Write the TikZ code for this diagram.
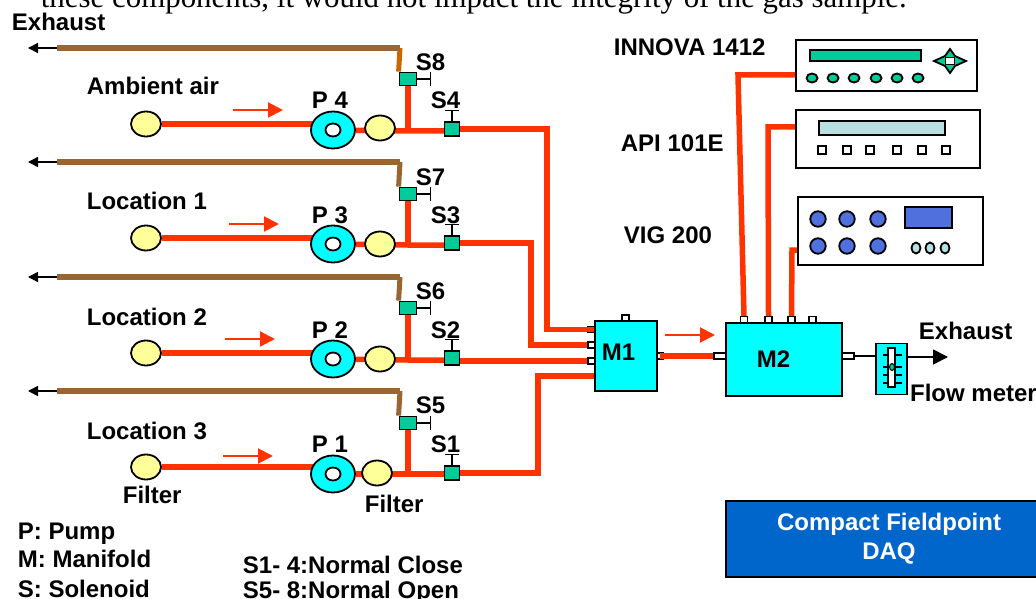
\documentclass[tikz,border=0pt]{standalone}
\usepackage{fontspec}
\setmainfont{Liberation Sans}
\newfontfamily\pagefont{Liberation Serif}
\usepackage{tikz}
\usetikzlibrary{shapes, arrows.meta, backgrounds}

\definecolor{pipered}{HTML}{FF3300}
\definecolor{ventbrown}{HTML}{996633}
\definecolor{ventorange}{HTML}{CC6600}
\definecolor{valvegreen}{HTML}{00CC99}
\definecolor{filteryellow}{HTML}{FFFF99}
\definecolor{pumpcyan}{HTML}{00FFFF}
\definecolor{knobblue}{HTML}{5070DE}
\definecolor{panelblue}{HTML}{B8E0E2}
\definecolor{daqblue}{HTML}{0066CC}

\begin{document}
\begin{tikzpicture}[x=1pt, y=-1pt, line width=1.8pt,
    filter/.style = {draw, ellipse, fill=filteryellow, inner sep=0pt, minimum width=30pt, minimum height=25pt},
    pump/.style = {draw, ellipse, fill=pumpcyan, inner sep=0pt, minimum width=44pt, minimum height=37pt},
    hole/.style = {draw, ellipse, fill=white, inner sep=0pt, minimum width=15pt, minimum height=13pt},
    valve/.style = {draw, rectangle, fill=valvegreen, inner sep=0pt, minimum width=15pt, minimum height=14pt},
    vent valve/.style = {draw, rectangle, fill=valvegreen, inner sep=0pt, minimum width=17pt, minimum height=13pt},
    manifold/.style = {draw, rectangle, fill=pumpcyan, inner sep=0pt},
    stub/.style = {draw, rectangle, fill=white, inner sep=0pt, line width=1.4pt, minimum width=7pt, minimum height=6pt},
    unit/.style = {draw, rectangle, fill=white, inner sep=0pt, line width=2pt},
    dot/.style = {draw, ellipse, fill=valvegreen, inner sep=0pt, minimum width=11pt, minimum height=9pt},
    key/.style = {draw, rectangle, fill=white, inner sep=0pt, minimum width=8pt, minimum height=8pt},
    knob/.style = {draw, circle, fill=knobblue, inner sep=0pt, minimum size=15.5pt},
    lamp/.style = {draw, ellipse, fill=panelblue, inner sep=0pt, minimum width=9pt, minimum height=11pt},
    pipe/.style = {draw=pipered, line width=5.5pt},
    vent/.style = {draw=ventbrown, line width=5.5pt},
    outlet/.style = {line width=1.5pt, -{Triangle[length=10pt,width=10pt]}},
    flow/.style = {draw=pipered, line width=2pt, -{Triangle[length=15pt,width=15pt,color=pipered]}},
    handle/.style = {line width=1.2pt, -{Bar[width=14pt,line width=1.2pt]}},
    lbl/.style = {anchor=base west, inner sep=0pt, font=\fontsize{24}{26}\selectfont\bfseries}]
    \useasboundingbox (0,0) rectangle (1036,599);

    % line of page text cut by the figure
    \node[anchor=base west, inner sep=0pt, font=\fontsize{30.9}{32}\selectfont\pagefont] (pagetext) at (40,8) {these components, it would not impact the integrity of the gas sample.};

    % sampling rows
    \node[filter] (f4) at (146,124) {};
    \node[pump] (p4) [right of=f4, node distance=187pt, yshift=-6pt] {};
    \node[hole] (h4) at (p4) {};
    \node[filter] (g4) [right of=p4, node distance=47pt, yshift=2pt] {};
    \node[valve] (s4) [right of=g4, node distance=72pt, yshift=-1pt] {};
    \node[vent valve] (s8) at (408,79) {};
    \coordinate[below of=s8, node distance=52pt] (j4);

    \node[filter] (f3) [below of=f4, node distance=114pt] {};
    \node[pump] (p3) [right of=f3, node distance=187pt, yshift=-6pt] {};
    \node[hole] (h3) at (p3) {};
    \node[filter] (g3) [right of=p3, node distance=47pt] {};
    \node[valve] (s3) [right of=g3, node distance=72pt, yshift=1pt] {};
    \node[vent valve] (s7) [below of=s8, node distance=115pt] {};
    \coordinate[below of=s7, node distance=51pt] (j3);

    \node[filter] (f2) [below of=f3, node distance=115pt] {};
    \node[pump] (p2) [right of=f2, node distance=187pt, yshift=-6pt] {};
    \node[hole] (h2) at (p2) {};
    \node[filter] (g2) [right of=p2, node distance=47pt] {};
    \node[valve] (s2) [right of=g2, node distance=72pt, yshift=1pt] {};
    \node[vent valve] (s6) [below of=s7, node distance=114pt] {};
    \coordinate[below of=s6, node distance=52pt] (j2);

    \node[filter] (f1) [below of=f2, node distance=114pt] {};
    \node[pump] (p1) [right of=f1, node distance=187pt, yshift=-7pt] {};
    \node[hole] (h1) at (p1) {};
    \node[filter] (g1) [right of=p1, node distance=44pt, yshift=1pt] {};
    \node[valve] (s1) [right of=g1, node distance=75pt] {};
    \node[vent valve] (s5) [below of=s6, node distance=115pt] {};
    \coordinate[below of=s5, node distance=51pt] (j1);

    % manifolds and flow meter
    \node[manifold, minimum width=62pt, minimum height=70pt] (m1) at (626,356) {};
    \node[manifold, minimum width=116pt, minimum height=73pt] (m2) at (784,359.5) {};
    \node[manifold, minimum width=31pt, minimum height=51pt] (fm) at (891.5,369) {};
    \draw[line width=1.2pt] (883,355) -- (902,355);
    \draw[line width=1.2pt] (883,367) -- (902,367);
    \draw[line width=1.2pt] (883,375) -- (902,375);
    \draw[line width=1.2pt] (883,383) -- (902,383);
    \node[draw, rectangle, fill=white, inner sep=0pt, line width=1.2pt, minimum width=7pt, minimum height=39pt] (slider) at (891.5,367.5) {};
    \node[draw, ellipse, fill=valvegreen, inner sep=0pt, line width=1pt, minimum width=5pt, minimum height=7pt] (bead) at (892,367) {};

    % analysers
    \node[unit, minimum width=181pt, minimum height=51pt] (innova) at (886.5,65.5) {};
    \node[draw, rectangle, fill=valvegreen, inner sep=0pt, minimum width=111pt, minimum height=11pt] (readout) at (865.5,55.5) {};
    \node[dot] (d1) at (812,78) {};
    \node[dot] (d2) [right of=d1, node distance=21pt] {};
    \node[dot] (d3) [right of=d2, node distance=21pt] {};
    \node[dot] (d4) [right of=d3, node distance=22pt] {};
    \node[dot] (d5) [right of=d4, node distance=21pt] {};
    \node[dot] (d6) [right of=d5, node distance=21pt] {};
    \draw[fill=valvegreen] (934,61) -- (945,56) -- (950,49) -- (955,56) -- (966,61) -- (955,66) -- (950,73) -- (945,66) -- cycle;
    \node[draw, rectangle, fill=white, inner sep=0pt, line width=1pt, minimum width=9pt, minimum height=7pt] (pad) at (950,61) {};

    \node[unit, minimum width=184pt, minimum height=58pt] (api) at (888,139) {};
    \node[draw, rectangle, fill=panelblue, inner sep=0pt, minimum width=126pt, minimum height=14pt] (screen) at (882,128) {};
    \node[key] (k1) at (822,150) {};
    \node[key] (k2) [right of=k1, node distance=25pt] {};
    \node[key] (k3) [right of=k2, node distance=23pt] {};
    \node[key] (k4) [right of=k3, node distance=27pt] {};
    \node[key] (k5) [right of=k4, node distance=25pt] {};
    \node[key] (k6) [right of=k5, node distance=24pt] {};

    \node[unit, minimum width=185pt, minimum height=68pt] (vig) at (890.5,231) {};
    \node[knob] (b1) at (818,219) {};
    \node[knob] (b2) [right of=b1, node distance=29pt] {};
    \node[knob] (b3) [right of=b2, node distance=31pt] {};
    \node[knob] (b4) [below of=b1, node distance=27pt] {};
    \node[knob] (b5) [below of=b2, node distance=27pt] {};
    \node[knob] (b6) [below of=b3, node distance=27pt] {};
    \node[draw, rectangle, fill=knobblue, inner sep=0pt, minimum width=47pt, minimum height=21pt] (display) at (928.5,217.5) {};
    \node[lamp] (l1) at (916,248) {};
    \node[lamp] (l2) [right of=l1, node distance=14pt] {};
    \node[lamp] (l3) [right of=l2, node distance=15pt] {};

    % bends and free ends
    \coordinate (b48) at (400,48);
    \coordinate (e48) at (57,48);
    \coordinate (x48) at (28,48);
    \coordinate (b37) at (400,162);
    \coordinate (e37) at (57,162);
    \coordinate (x37) at (28,162);
    \coordinate (b26) at (400,277);
    \coordinate (e26) at (57,277);
    \coordinate (x26) at (28,277);
    \coordinate (b15) at (400,391);
    \coordinate (e15) at (57,391);
    \coordinate (x15) at (28,391);
    \coordinate (c4) at (547,129);
    \coordinate (c3) at (531,243);
    \coordinate (c1) at (538,473);
    \coordinate (ci) at (738,75);
    \coordinate (ca) at (768,127);
    \coordinate (cv) at (792,250);
    \coordinate (xr) at (948,357);

    \begin{scope}[on background layer]
        \node[stub] (t1) at (625.5,318) {};
        \node[stub, minimum height=5pt] (i1) at (591.5,329.5) {};
        \node[stub] (i2) at (591.5,345) {};
        \node[stub] (i3) at (591.5,361) {};
        \node[stub, minimum height=5pt] (i4) at (591.5,376) {};
        \node[stub] (o1) at (660,356) {};
        \node[stub, minimum width=12pt] (i5) at (720,356) {};
        \node[stub, minimum width=12pt] (o2) at (848,356) {};
        \node[stub] (u1) at (744,319.5) {};
        \node[stub] (u2) at (768.5,319.5) {};
        \node[stub] (u3) at (791.5,319.5) {};
        \node[stub] (u4) at (812.5,319.5) {};
        \draw[pipe] (f4) -- (f4 -| p4);
        \draw[pipe] (p4) -- (j4) -- (j4 -| s4);
        \draw[pipe] (s8) -- (j4);
        \draw[pipe] (f3) -- (f3 -| p3);
        \draw[pipe] (p3) -- (j3) -- (j3 -| s3);
        \draw[pipe] (s7) -- (j3);
        \draw[pipe] (f2) -- (f2 -| p2);
        \draw[pipe] (p2) -- (j2) -- (j2 -| s2);
        \draw[pipe] (s6) -- (j2);
        \draw[pipe] (f1) -- (f1 -| p1);
        \draw[pipe] (p1) -- (j1) -- (j1 -| s1);
        \draw[pipe] (s5) -- (j1);
        \draw[pipe] (s4) -- (c4) -- (c4 |- i1) -- (i1.center -| m1.west);
        \draw[pipe] (s3) -- (c3) -- (c3 |- i2) -- (i2.west);
        \draw[pipe] (s2 |- i3) -- (i3.west);
        \draw[pipe] (s1) -- (c1) -- (c1 |- i4) -- (i4.center -| m1.west);
        \draw[pipe] (o1.center) -- (i5.west);
        \draw[pipe] (innova.west |- ci) -- (ci) -- (u1.north);
        \draw[pipe] (api.west |- ca) -- (ca) -- (u2.north);
        \draw[pipe] (vig.west |- cv) -- (cv) -- (u3.north);
    \end{scope}

    % exhaust lines
    \draw[draw=ventorange, line width=5pt] (s8.north west) -- (b48);
    \draw[vent] (b48) -- (e48);
    \draw[outlet] (e48) -- (x48);
    \draw[draw=ventbrown, line width=5pt] (s7.north west) -- (b37);
    \draw[vent] (b37) -- (e37);
    \draw[outlet] (e37) -- (x37);
    \draw[draw=ventbrown, line width=5pt] (s6.north west) -- (b26);
    \draw[vent] (b26) -- (e26);
    \draw[outlet] (e26) -- (x26);
    \draw[draw=ventbrown, line width=5pt] (s5.north west) -- (b15);
    \draw[vent] (b15) -- (e15);
    \draw[outlet] (e15) -- (x15);
    \draw[line width=1.8pt] (o2.east) -- (o2.east -| fm.west);
    \draw[line width=1.8pt, -{Triangle[length=15pt,width=15pt]}] (fm.east |- xr) -- (xr);

    % solenoid handles
    \draw[handle] (s8.east) -- ++(14,0);
    \draw[handle] (s7.east) -- ++(14,0);
    \draw[handle] (s6.east) -- ++(14,0);
    \draw[handle] (s5.east) -- ++(14,0);
    \draw[handle] (s4.north) -- ++(0,-11);
    \draw[handle] (s3.north) -- ++(0,-11);
    \draw[handle] (s2.north) -- ++(0,-11);
    \draw[handle] (s1.north) -- ++(0,-11);

    % flow direction
    \coordinate (a4) at (233,110);
    \coordinate[right of=a4, node distance=50pt] (z4);
    \coordinate (a3) at (229,224);
    \coordinate[right of=a3, node distance=50pt] (z3);
    \coordinate (a2) at (225,339);
    \coordinate[right of=a2, node distance=50pt] (z2);
    \coordinate (a1) at (223,456);
    \coordinate[right of=a1, node distance=50pt] (z1);
    \coordinate (am) at (665,335);
    \coordinate[right of=am, node distance=50pt] (zm);
    \draw[flow] (a4) -- (z4);
    \draw[flow] (a3) -- (z3);
    \draw[flow] (a2) -- (z2);
    \draw[flow] (a1) -- (z1);
    \draw[flow] (am) -- (zm);

    % labels
    \node[lbl] (exhaustl) at (11,31) {Exhaust};
    \node[lbl] (air) at (86,95) {Ambient air};
    \node[lbl] (loc1) at (86,209) {Location 1};
    \node[lbl] (loc2) at (86,325) {Location 2};
    \node[lbl] (loc3) at (86,439) {Location 3};
    \node[lbl] (lp4) at (311,109) {P 4};
    \node[lbl] (lp3) at (311,223) {P 3};
    \node[lbl] (lp2) at (311,338) {P 2};
    \node[lbl] (lp1) at (311,452) {P 1};
    \node[lbl] (ls8) at (415,71) {S8};
    \node[lbl] (ls7) at (415,185) {S7};
    \node[lbl] (ls6) at (415,299) {S6};
    \node[lbl] (ls5) at (415,413) {S5};
    \node[lbl] (ls4) at (430,109) {S4};
    \node[lbl] (ls3) at (430,223) {S3};
    \node[lbl] (ls2) at (430,338) {S2};
    \node[lbl] (ls1) at (430,452) {S1};
    \node[lbl] (lf1) at (122,503) {Filter};
    \node[lbl] (lf2) at (364,512) {Filter};
    \node[lbl] (lpump) at (17,539) {P: Pump};
    \node[lbl] (lman) at (17,567) {M: Manifold};
    \node[lbl] (lsol) at (17,597) {S: Solenoid};
    \node[lbl] (lclose) at (242,573) {S1- 4:Normal Close};
    \node[lbl] (lopen) at (242,598) {S5- 8:Normal Open};
    \node[lbl] (linnova) at (613,56) {INNOVA 1412};
    \node[lbl] (lapi) at (620,151) {API 101E};
    \node[lbl] (lvig) at (623,243) {VIG 200};
    \node[lbl] (lm1) at (601,360) {M1};
    \node[lbl] (lm2) at (756,367) {M2};
    \node[lbl] (exhaustr) at (918,339) {Exhaust};
    \node[lbl] (lflow) at (909.2,401) {Flow meter};

    \node[draw, rectangle, fill=daqblue, text=white, inner sep=0pt, minimum width=326pt, minimum height=76pt, align=center, font=\fontsize{24}{29}\selectfont\bfseries] (daq) at (889,539) {Compact Fieldpoint\\DAQ};
\end{tikzpicture}
\end{document}
